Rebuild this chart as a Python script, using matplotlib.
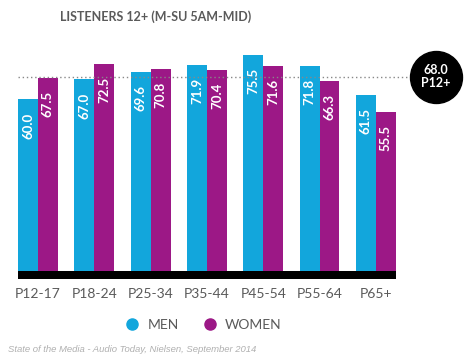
import numpy as np
import matplotlib.pyplot as plt
from matplotlib.lines import Line2D

# Data
groups = ['P12-17', 'P18-24', 'P25-34', 'P35-44', 'P45-54', 'P55-64', 'P65+']
men = [60.0, 67.0, 69.6, 71.9, 75.5, 71.8, 61.5]
women = [67.5, 72.5, 70.8, 70.4, 71.6, 66.3, 55.5]
avg_value = 68.0
avg_label = 'P12+'

men_color = '#12a6dc'
women_color = '#9c1886'
grey = '#5a5a5a'

plt.rcParams['font.family'] = ['Lato', 'DejaVu Sans']

fig = plt.figure(figsize=(4.75, 3.6), dpi=100)
ax = fig.add_axes([0, 80 / 360, 1, 250 / 360])

x = np.arange(len(groups))
w = 0.355
ax.bar(x - w / 2, men, width=w, color=men_color, edgecolor='none')
ax.bar(x + w / 2, women, width=w, color=women_color, edgecolor='none')

# value labels inside bars
for xs, vals in ((x - w / 2, men), (x + w / 2, women)):
    for xi, v in zip(xs, vals):
        ax.text(xi, v - 4.5, f'{v:.1f}', rotation=90, ha='center', va='top',
                color='white', fontsize=9.5, fontweight='bold')

# black base band
left, right = -w, len(groups) - 1 + w
ax.fill_between([left, right], -2.8, 0, color='black', lw=0)

# average dotted line + badge
badge_x = 7.07
ax.plot([left, badge_x], [avg_value, avg_value], ls=(0, (1, 2)), color='#888888', lw=1)
ax.scatter([badge_x], [avg_value], s=1400, color='black', zorder=5, clip_on=False)
ax.text(badge_x, avg_value, f'{avg_value:.1f}\n{avg_label}', ha='center', va='center',
        color='white', fontsize=9, fontweight='bold', linespacing=1.1, zorder=6)

ax.set_xlim(-0.675, 7.762)
ax.set_ylim(-3.15, 84.3)
ax.axis('off')

# category labels
for xi, g in zip(x, groups):
    ax.text(xi, -5.8, g, ha='center', va='top', color=grey, fontsize=10)

# title
fig.text(60 / 475, 1 - 17 / 360, 'LISTENERS 12+ (M-SU 5AM-MID)', ha='left', va='center',
         color=grey, fontsize=9, fontweight='bold')

# legend
handles = [Line2D([], [], marker='o', ls='none', color=men_color, markersize=8),
           Line2D([], [], marker='o', ls='none', color=women_color, markersize=8)]
fig.legend(handles, ['MEN', 'WOMEN'], loc='center', bbox_to_anchor=(200 / 475, 1 - 325 / 360),
           ncol=2, frameon=False, fontsize=10, labelcolor=grey, handletextpad=0.1,
           columnspacing=1.2)

# source note
fig.text(8 / 475, 1 - 349 / 360, 'State of the Media - Audio Today, Nielsen, September 2014',
         ha='left', va='center', color='#b0b0b0', fontsize=6.8, style='italic',
         family=['Liberation Sans', 'DejaVu Sans'])

plt.savefig('out.png', dpi=100)
